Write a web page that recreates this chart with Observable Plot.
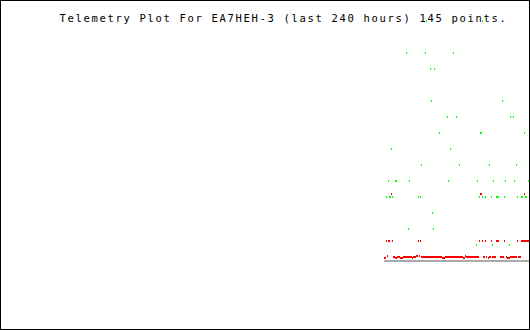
<!DOCTYPE html>
<html><head><meta charset="utf-8">
<script src="https://cdn.jsdelivr.net/npm/d3@7"></script>
<script src="https://cdn.jsdelivr.net/npm/@observablehq/plot@0.6"></script>
<style>html,body{margin:0;padding:0;background:#fff}</style>
</head><body><div id="chart"></div>
<script>
const title = "Telemetry Plot For EA7HEH-3 (last 240 hours) 145 points.";

// green channel: hours ago, level
const greenHours = [47.09, 21.74,
  56.15, 47.55, 34.87,
  45.28, 43.47,
  44.83, 12.68,
  37.58, 33.51, 9.06, 7.70,
  41.21, 22.64, 22.19, 2.72,
  62.94, 36.23,
  49.36, 32.15, 18.57, 6.34,
  64.30, 61.13, 60.68, 54.79, 37.13, 24.00, 16.75, 11.32, 7.25, 0.91,
  65.21, 63.85, 63.40, 62.49, 50.72, 49.81, 23.09, 21.74, 20.38, 17.66, 15.40, 14.94, 14.49, 11.77, 5.89, 4.08, 3.62, 2.26, 1.81,
  44.38,
  55.25, 43.92,
  24.45, 17.21, 9.51];
const greenLevel = [15, 15,
  13, 13, 13,
  12, 12,
  10, 10,
  9, 9, 9, 9,
  8, 8, 8, 8,
  7, 7,
  6, 6, 6, 6,
  5, 5, 5, 5, 5, 5, 5, 5, 5, 5,
  4, 4, 4, 4, 4, 4, 4, 4, 4, 4, 4, 4, 4, 4, 4, 4, 4, 4, 4,
  3,
  2, 2,
  1, 1, 1];

// red channels: hours ago, level
const redHours = [
  62.94, 22.64, 22.19, 2.72,
  65.21, 64.30, 63.85, 62.49, 50.72, 49.81, 23.09, 21.74, 20.38, 17.66, 15.40, 14.94, 14.49, 11.77, 5.89, 4.08, 3.62, 3.17, 2.72, 2.26, 1.81, 1.36, 0.91,
  66.11, 65.66, 64.75, 62.04, 61.58, 61.13, 60.68, 60.23, 59.77, 59.32, 58.87, 58.42, 57.96,
  57.51, 57.06, 56.60, 56.15, 55.70, 55.25, 54.79, 54.34, 53.89, 53.43, 52.98, 52.53, 52.08, 51.62, 51.17, 50.26,
  49.36, 48.91, 48.45, 48.00, 47.55, 47.09, 46.64, 46.19, 45.74, 45.28, 44.83, 44.38, 43.92, 43.47, 43.02, 42.57, 42.11, 41.66, 41.21, 40.75, 40.30,
  39.85, 39.40, 38.94,
  38.49, 38.04, 37.58, 37.13, 36.68, 36.23, 35.77, 35.32, 34.87, 34.42, 33.96, 33.51, 33.06, 32.60, 32.15, 31.70, 31.25, 30.79,
  30.34, 29.89, 29.43,
  28.98, 28.53, 28.08, 27.62, 27.17, 26.72, 26.26, 25.81, 25.36, 24.91, 24.45, 24.00, 23.55,
  21.28, 20.83, 19.92, 19.02, 18.57, 18.11, 17.21, 16.75, 16.30, 15.85,
  13.58, 13.13, 12.68, 12.23, 10.87, 10.42, 9.96, 9.51,
  9.06, 8.60, 8.15, 7.70, 7.25, 6.79, 6.34, 5.43, 4.98, 4.53];
const redLevel = [
  4.2, 4.2, 4.2, 4.2,
  1.25, 1.25, 1.25, 1.25, 1.25, 1.25, 1.25, 1.25, 1.25, 1.25, 1.25, 1.25, 1.25, 1.25, 1.25, 1.25, 1.25, 1.25, 1.25, 1.25, 1.25, 1.25, 1.25,
  0.19, 0.19, 0.31, 0.25, 0.25, 0.19, 0.19, 0.25, 0.25, 0.25, 0.19, 0.19, 0.19,
  0.25, 0.25, 0.25, 0.25, 0.25, 0.25, 0.25, 0.25, 0.25, 0.19, 0.25, 0.25, 0.25, 0.31, 0.31, 0.31,
  0.25, 0.25, 0.25, 0.25, 0.25, 0.25, 0.25, 0.25, 0.25, 0.25, 0.25, 0.25, 0.25, 0.25, 0.25, 0.25, 0.25, 0.25, 0.25, 0.25, 0.25,
  0.19, 0.19, 0.19,
  0.25, 0.25, 0.25, 0.25, 0.25, 0.25, 0.25, 0.25, 0.25, 0.25, 0.25, 0.25, 0.25, 0.25, 0.25, 0.25, 0.25, 0.25,
  0.19, 0.19, 0.31,
  0.25, 0.25, 0.25, 0.25, 0.25, 0.25, 0.25, 0.25, 0.25, 0.25, 0.25, 0.25, 0.25,
  0.25, 0.25, 0.25, 0.19, 0.25, 0.25, 0.25, 0.25, 0.25, 0.25,
  0.25, 0.25, 0.25, 0.25, 0.25, 0.19, 0.19, 0.19,
  0.25, 0.25, 0.25, 0.25, 0.25, 0.25, 0.25, 0.25, 0.25, 0.25];

const green = greenHours.map((h, i) => ({h, v: greenLevel[i]}));
const red = redHours.map((h, i) => ({h, v: redLevel[i]}));
const baseline = [{from: d3.max(redHours), to: 0, v: 0}];

const pix = {insetLeft: 0, insetRight: -1, insetTop: 0, insetBottom: -2, shapeRendering: "crispEdges"};

const plot = Plot.plot({
  width: 530, height: 330,
  marginTop: 0, marginRight: 0, marginBottom: 0, marginLeft: 0,
  style: {background: "#fff"},
  x: {domain: [240, 0], range: [0, 530], axis: null},
  y: {domain: [-4.375, 16.25], range: [330, 0], axis: null},
  marks: [
    Plot.rect(baseline, {x1: "from", x2: "to", y1: "v", y2: "v", fill: "#aaaaaa", ...pix}),
    Plot.rect(red, {x1: "h", x2: "h", y1: "v", y2: "v", fill: "#ff0000", ...pix}),
    Plot.rect(green, {x1: "h", x2: "h", y1: "v", y2: "v", fill: "#00ff00", ...pix}),
    Plot.text([title], {text: d => d, frameAnchor: "top-left", dx: 59, dy: 14, textAnchor: "start", lineAnchor: "top",
      fontFamily: "DejaVu Sans Mono", fontSize: 10.5, fill: "#000"}),
    Plot.frame({stroke: "#000", insetRight: 1, insetBottom: 1})
  ]
});
plot.querySelectorAll("text").forEach(t => t.setAttribute("letter-spacing", "1.68"));
document.getElementById("chart").appendChild(plot);
</script>
</body></html>
